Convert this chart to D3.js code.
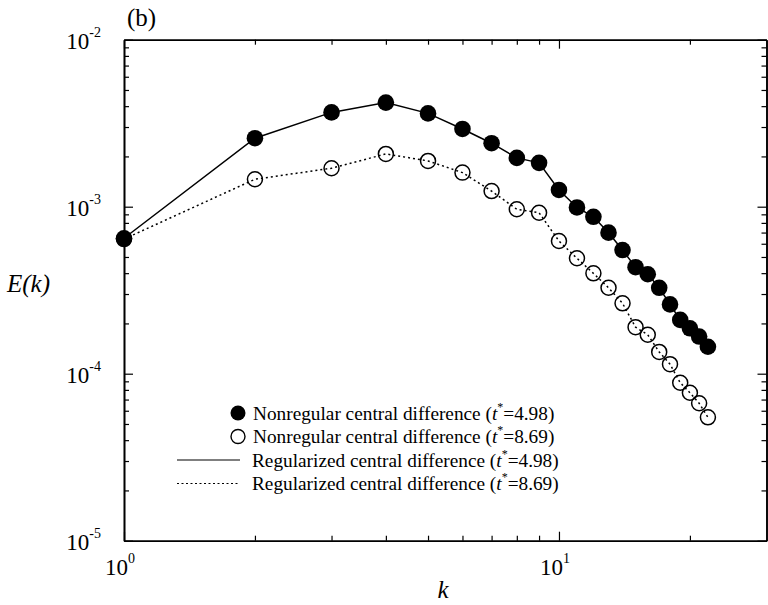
<!DOCTYPE html>
<html>
<head>
<meta charset="utf-8">
<script src="https://cdn.jsdelivr.net/npm/d3@7"></script>
<style>
  body { margin: 0; background: #fff; }
  svg { font-family: "Liberation Serif", "Times New Roman", serif; }
</style>
</head>
<body>
<div id="chart"></div>
<script>
// wavenumbers
var kValues = [1, 2, 3, 4, 5, 6, 7, 8, 9, 10, 11, 12, 13, 14, 15, 16, 17, 18, 19, 20, 21, 22]

// E(k) at t*=4.98 (filled dots + solid line)
var energyEarly = [6.47e-4, 2.57e-3, 3.67e-3, 4.20e-3, 3.62e-3, 2.92e-3, 2.40e-3, 1.96e-3, 1.83e-3, 1.26e-3,
  9.9e-4, 8.7e-4, 6.99e-4, 5.5e-4, 4.34e-4, 3.94e-4, 3.27e-4, 2.6e-4, 2.1e-4, 1.87e-4, 1.67e-4, 1.45e-4]

// E(k) at t*=8.69 (open dots + dotted line)
var energyLate = [6.4e-4, 1.46e-3, 1.70e-3, 2.07e-3, 1.88e-3, 1.60e-3, 1.24e-3, 9.65e-4, 9.2e-4, 6.23e-4,
  4.91e-4, 3.99e-4, 3.27e-4, 2.64e-4, 1.90e-4, 1.71e-4, 1.35e-4, 1.14e-4, 8.83e-5, 7.69e-5, 6.65e-5, 5.48e-5]

var xMajorTicks = [1, 10]
var xMinorTicks = [2, 3, 4, 5, 6, 7, 8, 9, 20]
var xTickLabels = ["0", "1"]
var yMajorTicks = [1e-5, 1e-4, 1e-3, 1e-2]
var yTickLabels = ["-5", "-4", "-3", "-2"]

var legendLabels = ["Nonregular central difference", "Nonregular central difference",
  "Regularized central difference", "Regularized central difference"]
var legendTimes = ["4.98", "8.69", "4.98", "8.69"]

var width = 768
var height = 605
// note: "top" is taken by window.top, so plot edges get their own names
var plotLeft = 124, plotRight = 766.5, plotTop = 39.7, plotBottom = 540.7

var svg = d3.select("#chart").append("svg")
  .attr("width", width)
  .attr("height", height)

var x = d3.scaleLog().domain([1, 30]).range([plotLeft, plotRight])
var y = d3.scaleLog().domain([1e-5, 1e-2]).range([plotBottom, plotTop])

// minor ticks for y, every decade 2..9
var yMinorTicks = []
yMajorTicks.slice(0, 3).forEach(function (d) {
  [2, 3, 4, 5, 6, 7, 8, 9].forEach(function (m) { yMinorTicks.push(d * m) })
})

function drawAxis(axisFn, scale, ticks, size, tx, ty) {
  svg.append("g")
    .attr("transform", "translate(" + tx + "," + ty + ")")
    .call(axisFn(scale).tickValues(ticks).tickSize(size).tickSizeOuter(0).tickFormat(""))
    .call(function (g) {
      g.select(".domain").attr("stroke", "#000").attr("stroke-width", 1.6)
      g.selectAll(".tick line").attr("stroke", "#000").attr("stroke-width", 1.2)
    })
}

// ticks point inward on all four sides
drawAxis(d3.axisBottom, x, xMajorTicks, -9, 0, plotBottom)
drawAxis(d3.axisBottom, x, xMinorTicks, -5, 0, plotBottom)
drawAxis(d3.axisTop, x, xMajorTicks, -9, 0, plotTop)
drawAxis(d3.axisTop, x, xMinorTicks, -5, 0, plotTop)
drawAxis(d3.axisLeft, y, yMajorTicks, -9, plotLeft, 0)
drawAxis(d3.axisLeft, y, yMinorTicks, -5, plotLeft, 0)
drawAxis(d3.axisRight, y, yMajorTicks, -9, plotRight, 0)
drawAxis(d3.axisRight, y, yMinorTicks, -5, plotRight, 0)

// x tick labels
xMajorTicks.forEach(function (d, i) {
  var t = svg.append("text")
    .attr("x", x(d) - 4)
    .attr("y", plotBottom + 34)
    .attr("text-anchor", "middle")
    .attr("font-size", 23)
  t.append("tspan").text("10")
  t.append("tspan").attr("font-size", 14).attr("dy", -12).text(xTickLabels[i])
})

// y tick labels
yMajorTicks.forEach(function (d, i) {
  var t = svg.append("text")
    .attr("x", 101)
    .attr("y", y(d) + 9)
    .attr("text-anchor", "end")
    .attr("font-size", 23)
  t.append("tspan").text("10")
  t.append("tspan").attr("font-size", 14).attr("dy", -12).text(yTickLabels[i])
})

// axis titles
svg.append("text")
  .attr("x", 443)
  .attr("y", 598)
  .attr("text-anchor", "middle")
  .attr("font-size", 25)
  .attr("font-style", "italic")
  .text("k")

svg.append("text")
  .attr("x", 7)
  .attr("y", 292)
  .attr("font-size", 25)
  .attr("font-style", "italic")
  .text("E(k)")

svg.append("text")
  .attr("x", 127)
  .attr("y", 26)
  .attr("font-size", 25)
  .text("(b)")

var early = kValues.map(function (k, i) { return { k: k, e: energyEarly[i] } })
var late = kValues.map(function (k, i) { return { k: k, e: energyLate[i] } })

var line = d3.line()
  .x(function (d) { return x(d.k) })
  .y(function (d) { return y(d.e) })

svg.append("path")
  .datum(late)
  .attr("d", line)
  .attr("fill", "none")
  .attr("stroke", "#000")
  .attr("stroke-width", 1.5)
  .attr("stroke-dasharray", "2,3")

svg.append("path")
  .datum(early)
  .attr("d", line)
  .attr("fill", "none")
  .attr("stroke", "#000")
  .attr("stroke-width", 1.5)

svg.selectAll(".open")
  .data(late)
  .enter()
  .append("circle")
  .attr("class", "open")
  .attr("cx", function (d) { return x(d.k) })
  .attr("cy", function (d) { return y(d.e) })
  .attr("r", 7.5)
  .attr("fill", "none")
  .attr("stroke", "#000")
  .attr("stroke-width", 1.5)

svg.selectAll(".filled")
  .data(early)
  .enter()
  .append("circle")
  .attr("class", "filled")
  .attr("cx", function (d) { return x(d.k) })
  .attr("cy", function (d) { return y(d.e) })
  .attr("r", 8.3)
  .attr("fill", "#000")

// legend
var legendY = [413, 436.5, 460, 483.5]
var legendTextX = 253

legendLabels.forEach(function (label, i) {
  var ly = legendY[i]
  if (i === 0) {
    svg.append("circle").attr("cx", 238).attr("cy", ly).attr("r", 7.5).attr("fill", "#000")
  } else if (i === 1) {
    svg.append("circle").attr("cx", 238).attr("cy", ly).attr("r", 7)
      .attr("fill", "none").attr("stroke", "#000").attr("stroke-width", 1.4)
  } else {
    svg.append("line")
      .attr("x1", 177).attr("x2", 240)
      .attr("y1", ly).attr("y2", ly)
      .attr("stroke", "#000")
      .attr("stroke-width", 1.2)
      .attr("stroke-dasharray", i === 3 ? "2,2.5" : null)
  }
  var t = svg.append("text")
    .attr("x", i < 2 ? legendTextX : legendTextX - 1)
    .attr("y", ly + 6.5)
    .attr("font-size", 19.3)
  t.append("tspan").text(label + " (")
  t.append("tspan").attr("font-style", "italic").text("t")
  t.append("tspan").attr("font-size", 12).attr("dy", -9).text("*")
  t.append("tspan").attr("dy", 9).text("=" + legendTimes[i] + ")")
})
</script>
</body>
</html>
